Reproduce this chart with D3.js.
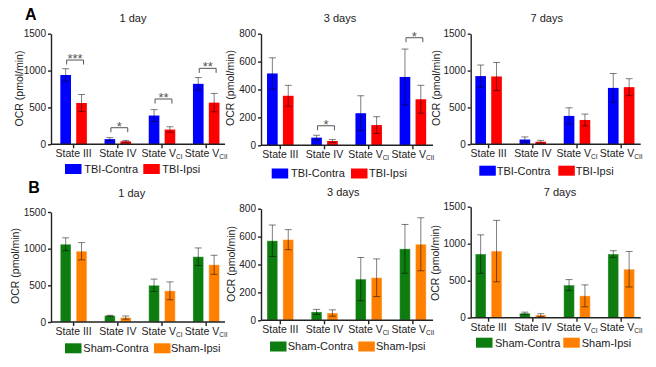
<!DOCTYPE html>
<html>
<head>
<meta charset="utf-8">
<script src="https://cdn.jsdelivr.net/npm/d3@7"></script>
<style>
  body { margin: 0; background: #fff; }
  text { font-family: "Liberation Sans", Arial, sans-serif; fill: #222; }
</style>
</head>
<body>
<div class="canvas"></div>
<script>
// data (OCR, pmol/min, mean and error)
const categories = ["State III", "State IV", "State V_CI", "State V_CII"];
const days = ["1 day", "3 days", "7 days"];
const yMax = [1500, 800, 1500];
const yTicks = [[0, 500, 1000, 1500], [0, 200, 400, 600, 800], [0, 500, 1000, 1500]];

const tbiContra    = [[940, 70, 390, 820], [515, 55, 230, 490], [925, 65, 385, 765]];
const tbiContraErr = [[85, 20, 80, 85],    [112, 17, 125, 200], [150, 35, 110, 195]];
const tbiIpsi      = [[560, 40, 200, 565], [355, 31, 145, 330], [920, 35, 330, 775]];
const tbiIpsiErr   = [[115, 12, 38, 125],  [75, 10, 60, 100],   [190, 18, 80, 115]];

const shamContra    = [[1060, 85, 500, 890], [570, 60, 295, 512], [860, 60, 440, 860]];
const shamContraErr = [[88, 6, 85, 120],     [113, 18, 155, 175], [260, 15, 75, 45]];
const shamIpsi      = [[965, 60, 425, 780],  [578, 52, 305, 545], [900, 35, 295, 655]];
const shamIpsiErr   = [[118, 22, 122, 130],  [72, 23, 135, 190],  [415, 18, 148, 240]];

// significance marks (TBI row only) and the height of their brackets
const tbiSig  = [["***", "*", "**", "**"], ["", "*", "", "*"], ["", "", "", ""]];
const tbiSigY = [[1143, 225, 614, 1030], [0, 140, 0, 771], [0, 0, 0, 0]];

// layout
const cols = [
  {axis: 51, end: 225, c0: 73.6},
  {axis: 261, end: 433, c0: 280.3},
  {axis: 470.7, end: 640.7, c0: 488.6}
];
const rows = [
  {
    letter: "A", letterPos: [25, 20],
    top: [33.7, 33.7, 33.7], bottom: [144.3, 145.3, 144.3],
    title: [[133, 22], [340, 22], [546.7, 22]],
    ylab: [[19, 88.5], [230, 88], [436, 88]],
    legend: [[65, 84.3, 143.3, 162.3, 169], [271.7, 291, 351, 369, 173.5], [479.3, 496.7, 558.3, 575.7, 170.7]],
    names: ["TBI-Contra", "TBI-Ipsi"],
    colors: ["#0000ff", "#ff0000"],
    vals: [tbiContra, tbiIpsi], errs: [tbiContraErr, tbiIpsiErr],
    sig: tbiSig, sigY: tbiSigY
  },
  {
    letter: "B", letterPos: [28.3, 193],
    top: [212, 208.7, 206.7], bottom: [322, 320.3, 317.7],
    title: [[131.7, 197.3], [343.3, 196.3], [560, 196.3]],
    ylab: [[15.3, 266], [231.7, 264], [435, 263]],
    legend: [[65, 83.3, 154, 171, 348.3], [270, 287.7, 358.3, 376, 346.5], [476, 495, 563.3, 581.7, 342.7]],
    names: ["Sham-Contra", "Sham-Ipsi"],
    colors: ["#0e7d10", "#ff8000"],
    vals: [shamContra, shamIpsi], errs: [shamContraErr, shamIpsiErr],
    sig: null, sigY: null
  }
];

const svg = d3.select(".canvas")
  .append("svg")
    .attr("width", 656)
    .attr("height", 367);

rows.forEach((row, r) => {
  svg.append("text")
    .attr("x", row.letterPos[0])
    .attr("y", row.letterPos[1])
    .style("font-size", "16px")
    .style("font-weight", "bold")
    .style("fill", "#000")
    .text(row.letter);

  cols.forEach((col, i) => {
    const g = svg.append("g");
    const top = row.top[i], bottom = row.bottom[i];

    const y = d3.scaleLinear()
      .domain([0, yMax[i]])
      .range([bottom, top]);

    const start = col.c0 - 22.1;
    const x0 = d3.scaleBand()
      .domain(categories)
      .range([start, start + 176.8])
      .paddingInner(0.4)
      .paddingOuter(0.2);
    const x1 = d3.scaleBand()
      .domain([0, 1])
      .range([0, x0.bandwidth()])
      .paddingInner(0.33);

    // bars
    [0, 1].forEach(s => {
      const d = categories.map((c, k) => ({c: c, v: row.vals[s][i][k], e: row.errs[s][i][k]}));
      g.selectAll(".bar" + s)
        .data(d)
        .join("rect")
          .attr("class", "bar" + s)
          .attr("x", d => x0(d.c) + x1(s))
          .attr("y", d => y(d.v))
          .attr("width", x1.bandwidth())
          .attr("height", d => bottom - y(d.v))
          .style("fill", row.colors[s])
          .style("stroke", r == 1 ? "#fff" : "none")
          .style("stroke-opacity", 0.35)
          .style("stroke-width", 1);

      // error bars
      const eb = g.selectAll(".err" + s)
        .data(d)
        .join("g")
          .attr("class", "err" + s)
          .attr("transform", d => `translate(${x0(d.c) + x1(s) + x1.bandwidth() / 2},0)`)
          .style("stroke", "#000")
          .style("stroke-opacity", 0.5)
          .style("stroke-width", 1);
      eb.append("line")
        .attr("y1", d => y(d.v + d.e))
        .attr("y2", d => y(Math.max(0, d.v - d.e)));
      eb.append("line")
        .attr("x1", -3.5).attr("x2", 3.5)
        .attr("y1", d => y(d.v + d.e)).attr("y2", d => y(d.v + d.e));
      eb.append("line")
        .attr("x1", -3.5).attr("x2", 3.5)
        .attr("y1", d => y(Math.max(0, d.v - d.e))).attr("y2", d => y(Math.max(0, d.v - d.e)));
    });

    // significance brackets
    if (row.sig) {
      categories.forEach((c, k) => {
        const mark = row.sig[i][k];
        if (!mark) return;
        const by = y(row.sigY[i][k]);
        const xa = x0(c) + x1(0) + x1.bandwidth() / 2 + 1;
        const xb = x0(c) + x1(1) + x1.bandwidth() / 2 + 2;
        g.append("path")
          .attr("d", `M${xa},${by + 4.5}V${by}H${xb}V${by + 4.5}`)
          .style("fill", "none")
          .style("stroke", "#555")
          .style("stroke-width", 1);
        g.append("text")
          .attr("x", (xa + xb) / 2)
          .attr("y", by + 3)
          .attr("text-anchor", "middle")
          .style("font-size", "13px")
          .style("fill", "#555")
          .text(mark);
      });
    }

    // y axis
    const ya = g.append("g")
      .attr("transform", `translate(${col.axis},0)`)
      .call(d3.axisLeft(y).tickValues(yTicks[i]).tickFormat(d3.format("d"))
        .tickSize(3).tickSizeOuter(0).tickPadding(2));
    ya.selectAll("text").style("font-size", "10px").style("fill", "#222").attr("font-family", null);
    ya.selectAll(".domain, .tick line").style("stroke", "#222").style("stroke-width", 1.4);

    // x axis
    const xa = g.append("g")
      .attr("transform", `translate(0,${bottom})`)
      .call(d3.axisBottom(x0).tickSize(4).tickSizeOuter(0));
    xa.select(".domain").remove();
    xa.append("line")
      .attr("x1", col.axis).attr("x2", col.end);
    xa.selectAll("line").style("stroke", "#222").style("stroke-width", 1.4);
    xa.selectAll("text")
      .attr("y", 13)
      .attr("dy", null)
      .attr("font-family", null)
      .style("font-size", "10.5px")
      .style("fill", "#222")
      .each(function(lab) {
        const parts = lab.split("_");
        const t = d3.select(this).text(null);
        t.append("tspan").text(parts[0]);
        if (parts[1]) {
          t.append("tspan").attr("dy", 2).style("font-size", "6.5px").text(parts[1]);
        }
      });

    // titles
    g.append("text")
      .attr("x", row.title[i][0])
      .attr("y", row.title[i][1])
      .attr("text-anchor", "middle")
      .style("font-size", "11px")
      .text(days[i]);

    g.append("text")
      .attr("transform", `translate(${row.ylab[i][0]},${row.ylab[i][1]}) rotate(-90)`)
      .attr("text-anchor", "middle")
      .attr("dy", "0.35em")
      .style("font-size", "10.5px")
      .text("OCR (pmol/min)");

    // legend
    const lg = row.legend[i];
    [0, 1].forEach(s => {
      g.append("rect")
        .attr("x", lg[s * 2])
        .attr("y", lg[4] - 5)
        .attr("width", 16.5)
        .attr("height", 10)
        .style("fill", row.colors[s]);
      g.append("text")
        .attr("x", lg[s * 2 + 1])
        .attr("y", lg[4])
        .attr("dy", "0.36em")
        .style("font-size", "11px")
        .text(row.names[s]);
    });
  });
});
</script>
</body>
</html>
